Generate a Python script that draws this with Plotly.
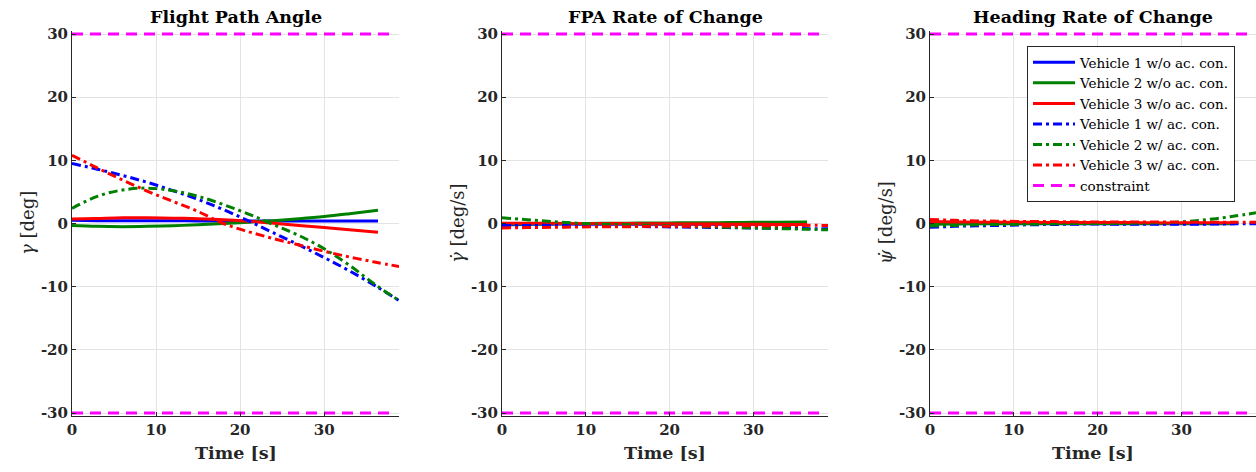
import plotly.graph_objects as go

# Time samples: runs without active constraint end earlier than runs with it
T_WO = [0, 3, 6, 9, 12, 15, 18, 21, 24, 27, 30, 33, 36.4]
T_W = [0, 3, 6, 9, 12, 15, 18, 21, 24, 27, 30, 33, 36, 38.9]

# Flight path angle gamma [deg]
GAM_WO_1 = [0.5, 0.45, 0.45, 0.45, 0.45, 0.4, 0.4, 0.4, 0.4, 0.4, 0.4, 0.4, 0.4]
GAM_WO_2 = [-0.3, -0.45, -0.5, -0.45, -0.35, -0.2, 0.0, 0.2, 0.45, 0.75, 1.1, 1.55, 2.1]
GAM_WO_3 = [0.7, 0.8, 0.9, 0.9, 0.85, 0.75, 0.6, 0.35, 0.05, -0.3, -0.65, -1.0, -1.4]
GAM_W_1 = [9.5, 8.6, 7.6, 6.5, 5.2, 3.8, 2.2, 0.4, -1.5, -3.4, -5.4, -7.5, -9.8, -12.2]
GAM_W_2 = [2.4, 4.3, 5.3, 5.6, 5.2, 4.3, 3.0, 1.5, -0.2, -1.9, -4.0, -6.6, -9.6, -12.2]
GAM_W_3 = [10.8, 8.8, 6.9, 5.1, 3.5, 1.9, 0.0, -1.3, -2.4, -3.4, -4.4, -5.3, -6.1, -6.8]

# FPA rate [deg/s]
GDOT_WO_1 = [-0.2, -0.15, -0.1, -0.1, -0.1, -0.1, -0.1, -0.1, -0.1, -0.1, -0.1, -0.1, -0.1]
GDOT_WO_2 = [-0.1, -0.08, -0.05, 0.0, 0.02, 0.05, 0.08, 0.1, 0.12, 0.15, 0.18, 0.21, 0.25]
GDOT_WO_3 = [0.05, 0.03, 0.02, 0.0, 0.0, -0.02, -0.04, -0.06, -0.08, -0.1, -0.12, -0.14, -0.16]
GDOT_W_1 = [-0.3, -0.3, -0.3, -0.35, -0.4, -0.45, -0.5, -0.55, -0.6, -0.65, -0.7, -0.75, -0.8, -0.85]
GDOT_W_2 = [0.9, 0.6, 0.3, 0.05, -0.1, -0.2, -0.3, -0.4, -0.5, -0.6, -0.7, -0.8, -0.9, -1.0]
GDOT_W_3 = [-0.7, -0.65, -0.6, -0.55, -0.5, -0.5, -0.45, -0.45, -0.4, -0.4, -0.35, -0.35, -0.3, -0.3]

# Heading rate [deg/s]
PDOT_WO_1 = [-0.05, -0.05, -0.05, -0.05, -0.05, -0.05, -0.05, -0.05, -0.05, -0.05, -0.05, -0.05, -0.05]
PDOT_WO_2 = [-0.1, -0.05, 0.0, 0.0, 0.0, 0.0, 0.0, 0.0, 0.0, 0.0, 0.0, 0.0, 0.0]
PDOT_WO_3 = [0.3, 0.25, 0.2, 0.2, 0.2, 0.15, 0.15, 0.15, 0.15, 0.1, 0.1, 0.1, 0.1]
PDOT_W_1 = [-0.6, -0.45, -0.35, -0.3, -0.2, -0.15, -0.1, -0.1, -0.1, -0.1, -0.1, -0.1, -0.05, -0.05]
PDOT_W_2 = [-0.4, -0.3, -0.2, -0.15, -0.1, -0.05, 0.0, 0.0, 0.05, 0.1, 0.25, 0.6, 1.1, 1.7]
PDOT_W_3 = [0.65, 0.5, 0.4, 0.35, 0.3, 0.3, 0.25, 0.25, 0.25, 0.25, 0.2, 0.2, 0.2, 0.2]

# Constraint bounds
CON_T = [0, 38]
CON_UP = [30, 30]
CON_LO = [-30, -30]

TITLES = ["Flight Path Angle", "FPA Rate of Change", "Heading Rate of Change"]
YLABELS = ["<i>γ</i> [deg]", "<i>γ̇</i> [deg/s]", "<i>ψ̇</i> [deg/s]"]
NAMES = ["Vehicle 1 w/o ac. con.", "Vehicle 2 w/o ac. con.", "Vehicle 3 w/o ac. con.",
         "Vehicle 1 w/ ac. con.", "Vehicle 2 w/ ac. con.", "Vehicle 3 w/ ac. con.",
         "constraint"]
Y_TICKS = [-30, -20, -10, 0, 10, 20, 30]
Y_TICKTEXT = ["-30", "-20", "-10", "0", "10", "20", "30"]
X_TICKS = [0, 10, 20, 30]
X_TICKTEXT = ["0", "10", "20", "30"]

COLORS = ["#0000ff", "#008000", "#ff0000"]
MAGENTA = "#ff00ff"
DASHDOT = "9px,4px,3px,4px"
DASHED = "11px,7px"
SERIF = "DejaVu Serif"

W, H = 1256, 472
# pixel extents of each plotting box
BOX_X = [(72, 399), (502, 828), (930, 1256)]
Y_TOP_PX, Y_BOT_PX = 34, 413  # pixel rows of +30 and -30
PAD = 0.4  # small range padding so bound lines are not clipped
px_per_unit = (Y_BOT_PX - Y_TOP_PX) / 60.0
ytop = Y_TOP_PX - PAD * px_per_unit
ybot = Y_BOT_PX + PAD * px_per_unit

panels = [
    (GAM_WO_1, GAM_WO_2, GAM_WO_3, GAM_W_1, GAM_W_2, GAM_W_3),
    (GDOT_WO_1, GDOT_WO_2, GDOT_WO_3, GDOT_W_1, GDOT_W_2, GDOT_W_3),
    (PDOT_WO_1, PDOT_WO_2, PDOT_WO_3, PDOT_W_1, PDOT_W_2, PDOT_W_3),
]

fig = go.Figure()
annotations = []

for i, series in enumerate(panels):
    xa = "x" if i == 0 else f"x{i + 1}"
    ya = "y" if i == 0 else f"y{i + 1}"
    show = i == 2
    for j in range(3):
        fig.add_trace(go.Scatter(
            x=T_WO, y=series[j], mode="lines", name=NAMES[j], xaxis=xa, yaxis=ya,
            line=dict(color=COLORS[j], width=3, shape="spline"),
            showlegend=show, legendrank=j + 1))
    for j in range(3):
        fig.add_trace(go.Scatter(
            x=T_W, y=series[3 + j], mode="lines", name=NAMES[3 + j], xaxis=xa, yaxis=ya,
            line=dict(color=COLORS[j], width=3, dash=DASHDOT, shape="spline"),
            showlegend=show, legendrank=j + 4))
    fig.add_trace(go.Scatter(
        x=CON_T, y=CON_UP, mode="lines", name=NAMES[6], xaxis=xa, yaxis=ya,
        line=dict(color=MAGENTA, width=3, dash=DASHED),
        showlegend=show, legendrank=7))
    fig.add_trace(go.Scatter(
        x=CON_T, y=CON_LO, mode="lines", name=NAMES[6], xaxis=xa, yaxis=ya,
        line=dict(color=MAGENTA, width=3, dash=DASHED), showlegend=False))

    x0, x1 = BOX_X[i]
    axis_common = dict(
        showline=True, linecolor="#262626", linewidth=1,
        showgrid=True, gridcolor="#e3e3e3", gridwidth=1,
        zeroline=False, ticks="inside", ticklen=4, tickcolor="#262626",
        tickfont=dict(family=SERIF, size=15, color="#262626", weight="bold"),
        automargin=False, mirror=False,
    )
    fig.layout[f"xaxis{'' if i == 0 else i + 1}"] = dict(
        axis_common, domain=[x0 / W, x1 / W], range=[0, 38.9],
        tickvals=X_TICKS, ticktext=X_TICKTEXT, anchor=ya)
    fig.layout[f"yaxis{'' if i == 0 else i + 1}"] = dict(
        axis_common, domain=[1 - ybot / H, 1 - ytop / H], range=[-30 - PAD, 30 + PAD],
        tickvals=Y_TICKS, ticktext=Y_TICKTEXT, anchor=xa)

    cx = (x0 + x1) / 2
    annotations.append(dict(
        text=f"<b>{TITLES[i]}</b>", x=cx / W, y=1 - 17 / H, xref="paper", yref="paper",
        xanchor="center", yanchor="middle", showarrow=False,
        font=dict(family=SERIF, size=17.5, color="#000000")))
    annotations.append(dict(
        text="<b>Time [s]</b>", x=cx / W, y=1 - 453 / H, xref="paper", yref="paper",
        xanchor="center", yanchor="middle", showarrow=False,
        font=dict(family=SERIF, size=17.5, color="#262626")))
    annotations.append(dict(
        text=YLABELS[i], x=(x0 - 44) / W, y=1 - 223 / H, xref="paper", yref="paper",
        xanchor="center", yanchor="middle", showarrow=False, textangle=-90,
        font=dict(family=SERIF, size=18, color="#262626")))

fig.update_layout(
    width=W, height=H,
    margin=dict(l=0, r=0, t=0, b=0),
    paper_bgcolor="white", plot_bgcolor="white",
    annotations=annotations,
    legend=dict(
        x=1027 / W, y=1 - 46 / H, xanchor="left", yanchor="top",
        bgcolor="white", bordercolor="#262626", borderwidth=1,
        font=dict(family=SERIF, size=13.5, color="#000000"),
        tracegroupgap=0, itemwidth=42,
    ),
)

fig.write_html("out.html")
